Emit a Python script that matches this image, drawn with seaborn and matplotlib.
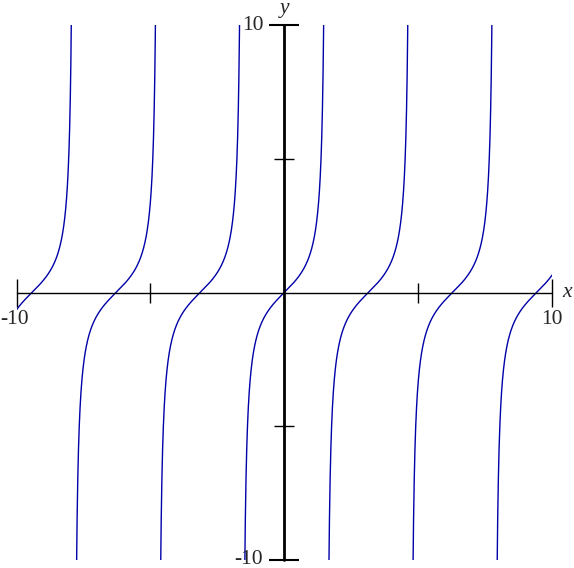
import numpy as np
import pandas as pd
from matplotlib import pyplot as plt
import seaborn as sns

# graph of y = tan(x) on [-10, 10]
x_range = [-10, 10]
y_range = [-10, 10]
tick_values = [-5, 5]
end_labels = ['-10', '10']
curve_color = '#0000a8'


def build_curve():
    asymptotes = [np.pi / 2 + k * np.pi for k in range(-4, 3)]
    edges = [x_range[0]] + asymptotes + [x_range[1]]
    frames = []
    for i in range(len(edges) - 1):
        xs = np.linspace(edges[i] + 1e-3, edges[i + 1] - 1e-3, 2000)
        ys = np.tan(xs)
        keep = np.abs(ys) < 14
        frames.append(pd.DataFrame({'x': xs[keep], 'y': ys[keep], 'branch': i}))
    return pd.concat(frames, ignore_index=True)


def main():
    sns.set_style('white')
    plt.rcParams['font.family'] = ['Liberation Serif', 'DejaVu Serif']

    fig = plt.figure(figsize=(5.74, 5.68), dpi=100)
    W, H = 574, 568
    ax = fig.add_axes([16.5 / W, (H - 560) / H, (552 - 16.5) / W, (560 - 25) / H])
    ax.set_axis_off()
    ax.set_xlim(x_range)
    ax.set_ylim(y_range)

    df = build_curve()
    sns.lineplot(data=df, x='x', y='y', units='branch', estimator=None,
                 color=curve_color, lw=1.0, ax=ax, legend=False)

    # axes lines
    ax.plot(x_range, [0, 0], color='black', lw=1.0, clip_on=False)
    ax.plot([0, 0], y_range, color='black', lw=2.0, clip_on=False)
    # end caps
    ax.plot(x_range, [0, 0], ls='none', marker='|', ms=20, mew=1.0,
            color='black', clip_on=False)
    ax.plot([0, 0], y_range, ls='none', marker='_', ms=22, mew=1.5,
            color='black', clip_on=False)
    # inner ticks
    ax.plot(tick_values, [0, 0], ls='none', marker='|', ms=14, mew=1.0,
            color='black', clip_on=False)
    ax.plot([0, 0], tick_values, ls='none', marker='_', ms=14, mew=1.0,
            color='black', clip_on=False)

    fs = 15.5
    ax.text(x_range[0] - 0.06, -1.0, end_labels[0], ha='center', va='center',
            fontsize=fs, clip_on=False)
    ax.text(x_range[1] - 0.02, -1.0, end_labels[1], ha='center', va='center',
            fontsize=fs, clip_on=False)
    ax.text(x_range[1] + 0.4, 0, 'x', ha='left', va='center',
            fontsize=fs, style='italic', clip_on=False)
    ax.text(-0.78, y_range[1], end_labels[1], ha='right', va='center',
            fontsize=fs, clip_on=False)
    ax.text(-0.8, y_range[0], end_labels[0], ha='right', va='center',
            fontsize=fs, clip_on=False)
    ax.text(0.0, y_range[1] + 0.62, 'y', ha='center', va='center',
            fontsize=fs, style='italic', clip_on=False)

    fig.savefig('out.png', dpi=100)


if __name__ == '__main__':
    main()
